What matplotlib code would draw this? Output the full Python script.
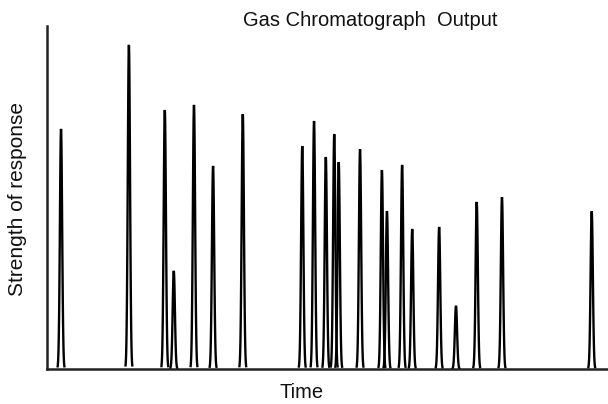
import numpy as np
import matplotlib
matplotlib.use("Agg")
import matplotlib.pyplot as plt

# Peak retention times (arbitrary time units, axis 0-100) and peak heights (0-100)
peak_times = [2.5, 14.6, 21.0, 22.6, 26.2, 29.6, 34.9, 45.5, 47.6, 49.7, 51.2,
              52.0, 55.8, 59.7, 60.6, 63.3, 65.1, 69.9, 72.9, 76.6, 81.1, 97.1]
peak_heights = [70.0, 94.5, 75.5, 28.6, 77.0, 59.2, 74.3, 65.0, 72.3, 61.8, 68.5,
                60.3, 64.1, 58.0, 46.0, 59.5, 40.8, 41.4, 18.4, 48.7, 50.1, 46.0]

title = "Gas Chromatograph  Output"
xlabel = "Time"
ylabel = "Strength of response"

plt.rcParams['font.family'] = ['Liberation Sans', 'DejaVu Sans']

fig = plt.figure(figsize=(6.08, 4.04), dpi=100)
ax = fig.add_axes([47/608, 35/404, 1 - 47/608, 343/404])

sigma = 0.2
for t, h in zip(peak_times, peak_heights):
    x = np.linspace(t - 3.0 * sigma, t + 3.0 * sigma, 61)
    y = h * np.exp(-0.5 * ((x - t) / sigma) ** 2)
    ax.plot(x, y, color='black', lw=1.7, solid_joinstyle='miter')

ax.set_xlim(0, 100)
ax.set_ylim(0, 100)
ax.set_xticks([])
ax.set_yticks([])
for s in ['top', 'right']:
    ax.spines[s].set_visible(False)
for s in ['left', 'bottom']:
    ax.spines[s].set_linewidth(1.8)
    ax.spines[s].set_color('#222222')

fig.text(370/608, 1 - 21/404, title, ha='center', va='center', fontsize=14.5, color='#111111')
fig.text(302/608, 1 - 392/404, xlabel, ha='center', va='center', fontsize=14.5, color='#111111')
fig.text(18/608, 1 - 199/404, ylabel, ha='center', va='center', rotation=90, fontsize=15, color='#111111')

fig.savefig("out.png", dpi=100)
